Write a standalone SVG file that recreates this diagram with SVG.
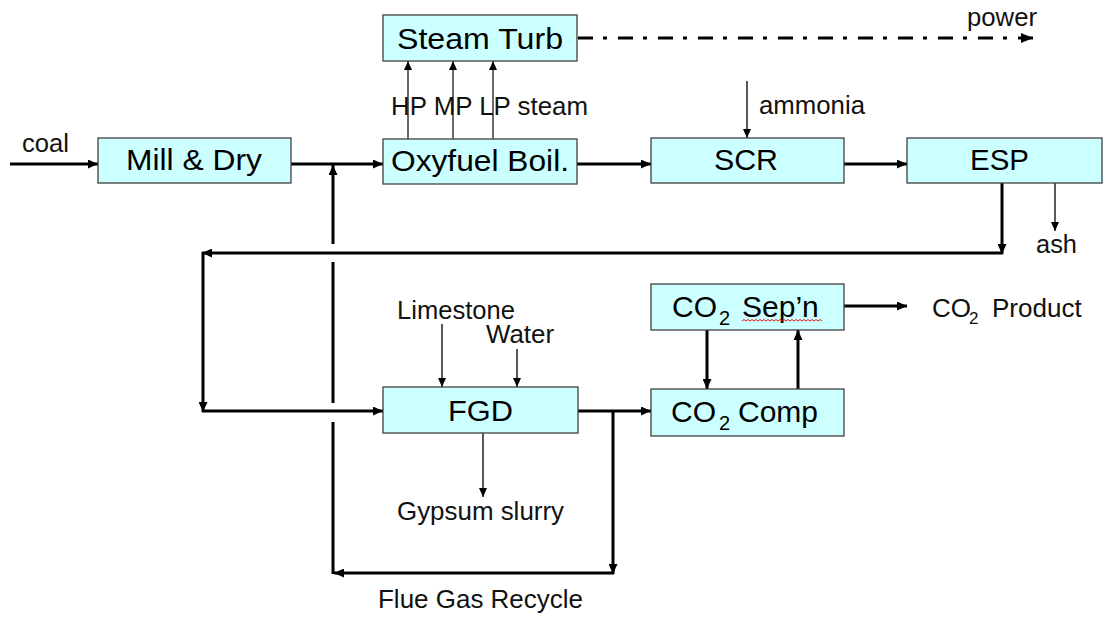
<svg xmlns="http://www.w3.org/2000/svg" width="1106" height="618" viewBox="0 0 1106 618">
<style>
.box{fill:#CCFFFF;stroke:#404040;stroke-width:1.3}
.bt{font-family:"Liberation Sans",Arial,sans-serif;font-size:30px;fill:#000}
.lb{font-family:"Liberation Sans",Arial,sans-serif;font-size:26px;fill:#111}
.thick{fill:none;stroke:#000;stroke-width:3;marker-end:url(#ah)}
.thickn{fill:none;stroke:#000;stroke-width:3}
.thin{fill:none;stroke:#000;stroke-width:1.3;marker-end:url(#at)}
.steam{fill:none;stroke:#444;stroke-width:1.6;marker-end:url(#at)}
.power{fill:none;stroke:#000;stroke-width:3;stroke-dasharray:15 10 4 11;marker-end:url(#ap)}
</style>
<defs>
<marker id="ah" viewBox="0 0 10 9" refX="10" refY="4.5" markerWidth="10" markerHeight="9" markerUnits="userSpaceOnUse" orient="auto"><path d="M0,0 L10,4.5 L0,9 z" fill="#000"/></marker>
<marker id="at" viewBox="0 0 9 8" refX="9" refY="4" markerWidth="9" markerHeight="8" markerUnits="userSpaceOnUse" orient="auto"><path d="M0,0 L9,4 L0,8 z" fill="#000"/></marker>
<marker id="ap" viewBox="0 0 12 10" refX="12" refY="5" markerWidth="12" markerHeight="10" markerUnits="userSpaceOnUse" orient="auto"><path d="M0,0 L12,5 L0,10 z" fill="#000"/></marker>
</defs>
<rect width="1106" height="618" fill="#fff"/>

<g id="connectors">
<line class="thick" x1="10" y1="164" x2="98" y2="164"/>
<line class="thick" x1="291" y1="164" x2="383" y2="164"/>
<line class="thick" x1="577" y1="164" x2="651" y2="164"/>
<line class="thick" x1="844" y1="164" x2="907" y2="164"/>
<line class="thick" x1="1002" y1="183" x2="1002" y2="254"/>
<line class="thick" x1="1003" y1="253" x2="202" y2="253"/>
<line class="thick" x1="203" y1="252" x2="203" y2="412"/>
<line class="thick" x1="202" y1="411" x2="383" y2="411"/>
<line class="thick" x1="578" y1="411" x2="651" y2="411"/>
<line class="thick" x1="613" y1="410" x2="613" y2="574"/>
<line class="thick" x1="614" y1="573" x2="334" y2="573"/>
<line class="thickn" x1="333" y1="574" x2="333" y2="422"/>
<line class="thickn" x1="333" y1="403" x2="333" y2="262"/>
<line class="thick" x1="333" y1="244" x2="333" y2="165"/>
<line class="thick" x1="707" y1="330" x2="707" y2="389"/>
<line class="thick" x1="798" y1="389" x2="798" y2="330"/>
<line class="thick" x1="844" y1="306" x2="907" y2="306"/>
<line class="steam" x1="408" y1="139" x2="408" y2="61"/>
<line class="steam" x1="453" y1="139" x2="453" y2="61"/>
<line class="steam" x1="493" y1="139" x2="493" y2="61"/>
<line class="power" x1="578" y1="38" x2="1033" y2="38"/>
<line class="thin" x1="747" y1="81" x2="747" y2="138"/>
<line class="thin" x1="1055" y1="183" x2="1055" y2="231"/>
<line class="thin" x1="442" y1="324" x2="442" y2="387"/>
<line class="thin" x1="517" y1="349" x2="517" y2="387"/>
<line class="thin" x1="483" y1="433" x2="483" y2="497"/>
</g>

<g id="steam-turb">
<rect class="box" x="383" y="15" width="194" height="46"/>
<text class="bt" x="397" y="49" textLength="166" lengthAdjust="spacingAndGlyphs">Steam Turb</text>
</g>
<g id="mill-dry">
<rect class="box" x="98" y="138" width="193" height="45"/>
<text class="bt" x="126" y="170" textLength="136" lengthAdjust="spacingAndGlyphs">Mill &amp; Dry</text>
</g>
<g id="oxyfuel-boil">
<rect class="box" x="383" y="139" width="194" height="45"/>
<text class="bt" x="391" y="171" textLength="178" lengthAdjust="spacingAndGlyphs">Oxyfuel Boil.</text>
</g>
<g id="scr">
<rect class="box" x="651" y="138" width="193" height="45"/>
<text class="bt" x="714" y="170" textLength="64" lengthAdjust="spacingAndGlyphs">SCR</text>
</g>
<g id="esp">
<rect class="box" x="907" y="138" width="195" height="45"/>
<text class="bt" x="970" y="170" textLength="59" lengthAdjust="spacingAndGlyphs">ESP</text>
</g>
<g id="fgd">
<rect class="box" x="383" y="387" width="195" height="46"/>
<text class="bt" x="448" y="421" textLength="65" lengthAdjust="spacingAndGlyphs">FGD</text>
</g>
<g id="co2-sepn">
<rect class="box" x="651" y="284" width="193" height="46"/>
<text class="bt" x="672" y="317">CO<tspan x="719" dy="8" font-size="20">2</tspan><tspan x="742" dy="-8">Sep’n</tspan></text>
<path d="M742,321 l2,-1.5 l2,1.5 l2,-1.5 l2,1.5 l2,-1.5 l2,1.5 l2,-1.5 l2,1.5 l2,-1.5 l2,1.5 l2,-1.5 l2,1.5 l2,-1.5 l2,1.5 l2,-1.5 l2,1.5 l2,-1.5 l2,1.5 l2,-1.5 l2,1.5 l2,-1.5 l2,1.5 l2,-1.5 l2,1.5 l2,-1.5 l2,1.5 l2,-1.5 l2,1.5 l2,-1.5 l2,1.5 l2,-1.5 l2,1.5 l2,-1.5 l2,1.5 l2,-1.5 l2,1.5 l2,-1.5 l2,1.5 l2,-1.5 l2,1.5" fill="none" stroke="#e00000" stroke-width="0.9"/>
</g>
<g id="co2-comp">
<rect class="box" x="651" y="389" width="193" height="47"/>
<text class="bt" x="671" y="422">CO<tspan x="719" dy="8" font-size="20">2</tspan><tspan x="738" dy="-8">Comp</tspan></text>
</g>

<g id="labels">
<text class="lb" x="22" y="152" textLength="47" lengthAdjust="spacingAndGlyphs">coal</text>
<text class="lb" x="391" y="115" textLength="197" lengthAdjust="spacingAndGlyphs">HP MP LP steam</text>
<text class="lb" x="967" y="26" textLength="70" lengthAdjust="spacingAndGlyphs">power</text>
<text class="lb" x="759" y="114" textLength="106" lengthAdjust="spacingAndGlyphs">ammonia</text>
<text class="lb" x="1036" y="253" textLength="41" lengthAdjust="spacingAndGlyphs">ash</text>
<text class="lb" x="397" y="319" textLength="118" lengthAdjust="spacingAndGlyphs">Limestone</text>
<text class="lb" x="486" y="343" textLength="68" lengthAdjust="spacingAndGlyphs">Water</text>
<text class="lb" x="397" y="520" textLength="167" lengthAdjust="spacingAndGlyphs">Gypsum slurry</text>
<text class="lb" x="378" y="608" textLength="205" lengthAdjust="spacingAndGlyphs">Flue Gas Recycle</text>
<text class="lb" x="932" y="317">CO<tspan x="969" dy="7" font-size="17">2</tspan><tspan x="992" dy="-7">Product</tspan></text>
</g>
</svg>
